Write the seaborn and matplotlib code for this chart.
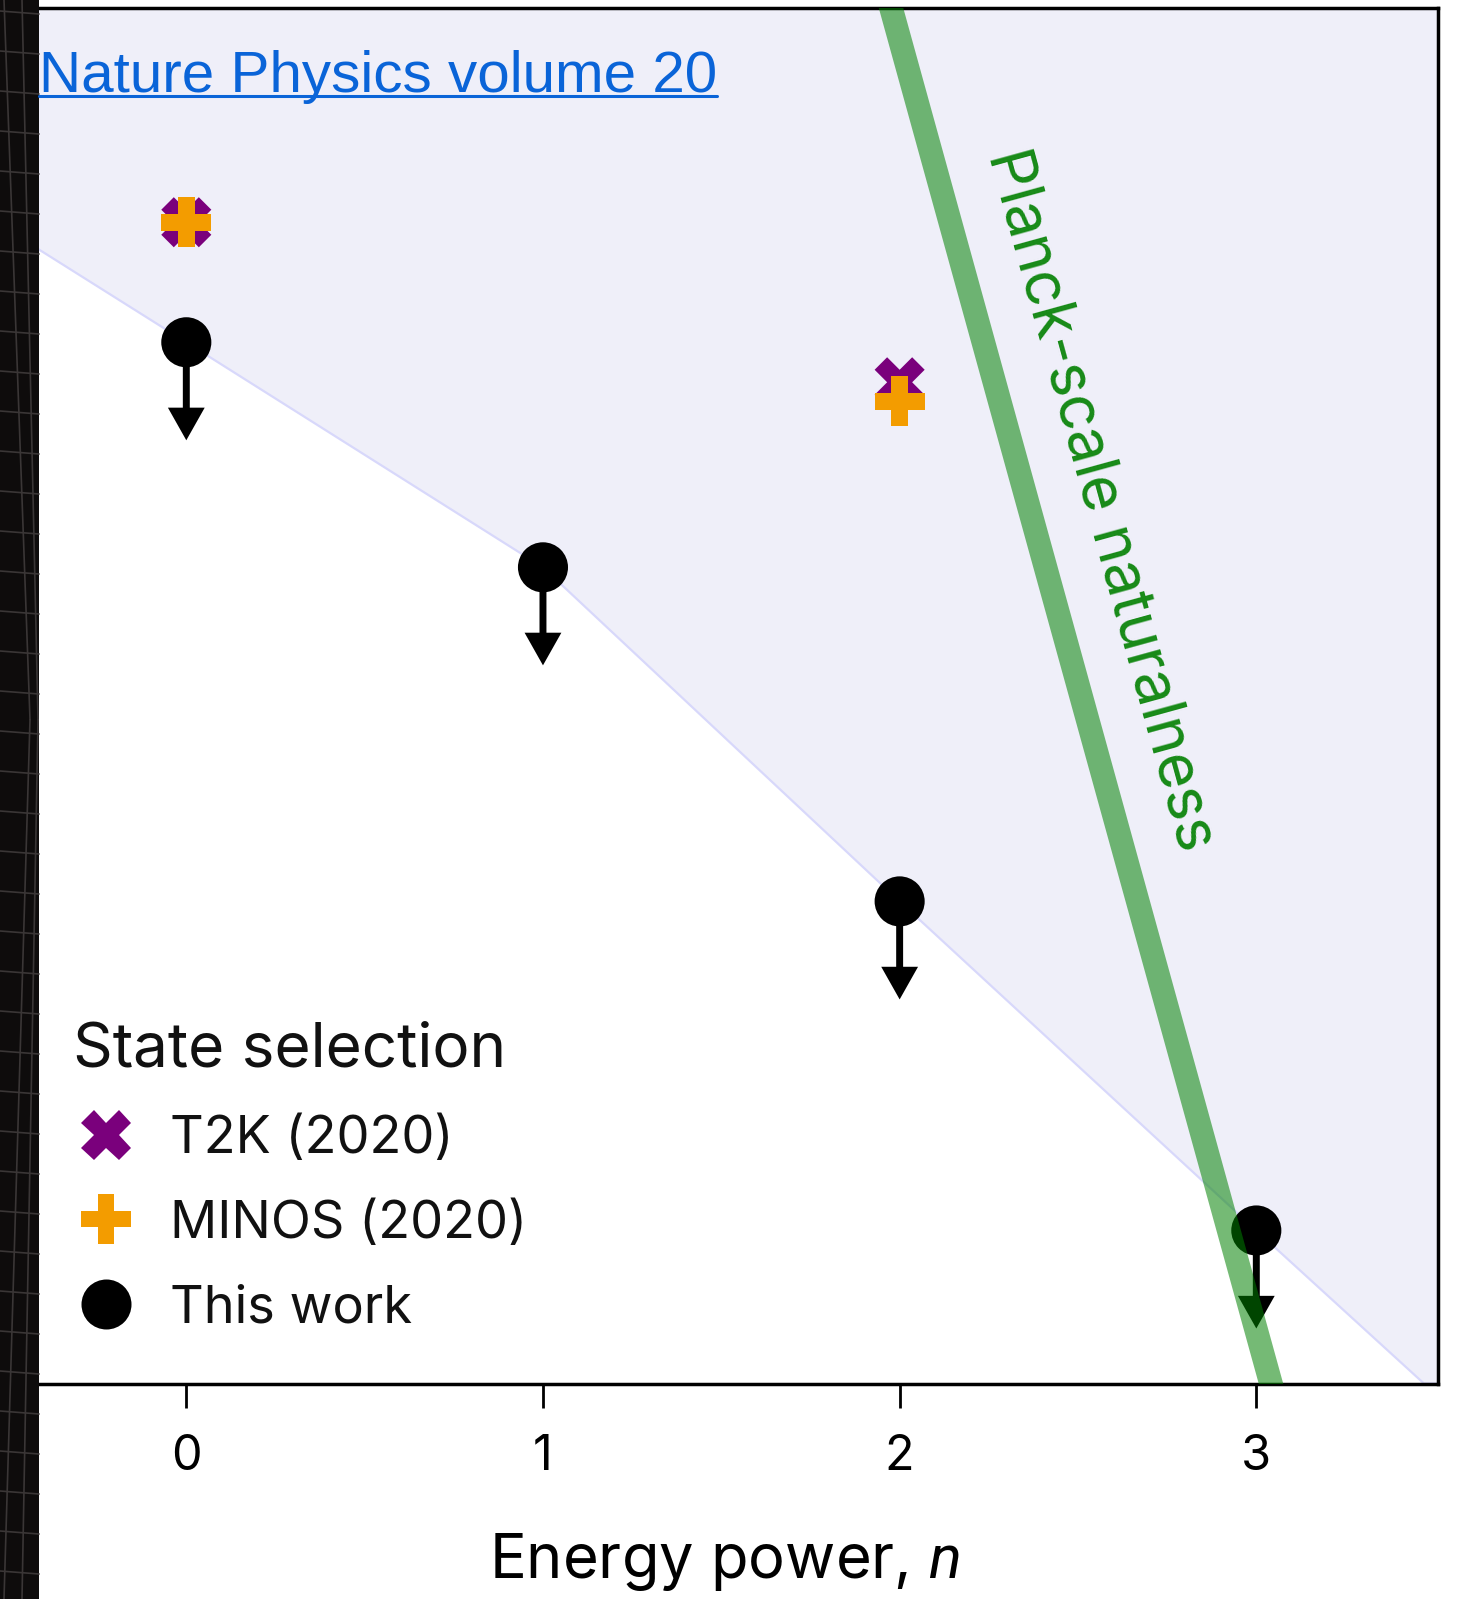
import numpy as np
import pandas as pd
import matplotlib
matplotlib.use("Agg")
import matplotlib.pyplot as plt
from matplotlib.lines import Line2D
from matplotlib.patches import Rectangle
import seaborn as sns

# ---- data -------------------------------------------------------------
# Upper limits on the coefficient (arbitrary log units) vs energy power n
n_this = [0, 1, 2, 3]
y_this = [10.41, 8.16, 4.82, 1.53]
n_t2k = [0, 2]
y_t2k = [11.61, 10.01]
n_minos = [0, 2]
y_minos = [11.61, 9.82]

# Edge of the excluded (shaded) region
excl_n = [-0.45, 0, 1, 2, 3, 3.47, 3.6]
excl_y = [11.42, 10.41, 8.16, 4.82, 1.53, 0.0, 0.0]

# Planck-scale naturalness line
planck_n = [1.976, 3.041]
planck_y = [13.75, 0.0]

arrow_len = 0.98
x_ticks = [0, 1, 2, 3]
x_tick_labels = ["0", "1", "2", "3"]
labels = ["T2K (2020)", "MINOS (2020)", "This work"]

# ---- style ------------------------------------------------------------
sns.set_theme(style="ticks")
plt.rcParams["font.family"] = ["Inter", "DejaVu Sans"]
plt.rcParams["mathtext.fontset"] = "custom"
plt.rcParams["mathtext.it"] = "Roboto:italic"
plt.rcParams["mathtext.rm"] = "Inter"

W, H, DPI = 1461, 1599, 100
fig = plt.figure(figsize=(W / DPI, H / DPI), dpi=DPI)
fig.patch.set_facecolor("white")

ax_l, ax_r, ax_t, ax_b = 39, 1437.5, 8.2, 1383.5
ax = fig.add_axes([ax_l / W, 1 - ax_b / H, (ax_r - ax_l) / W, (ax_b - ax_t) / H])
ax.set_facecolor("white")
ax.set_xlim(-0.413, 3.508)
ax.set_ylim(0, 13.75)

# dark strip on the left edge
fig.patches.append(Rectangle((0, 0), ax_l / W, 1, transform=fig.transFigure,
                             facecolor="#0e0c0c", edgecolor="none", zorder=0))
for k in range(0, 40):
    yy = 1 - (k * 40 + 14) / H
    fig.add_artist(Line2D([0, ax_l / W], [yy + 3 / H, yy], transform=fig.transFigure,
                          color="#3a3636", lw=1.2, zorder=1))
for x0, x1 in [(4, 30), (22, 38)]:
    fig.add_artist(Line2D([x0 / W, x1 / W], [1, 0.55], transform=fig.transFigure,
                          color="#3a3636", lw=1.2, zorder=1))
    fig.add_artist(Line2D([x1 / W, x0 / W], [0.55, 0], transform=fig.transFigure,
                          color="#3a3636", lw=1.2, zorder=1))

# excluded region
ax.fill_between(excl_n, excl_y, 14.5, color="#efeff9", lw=0, zorder=0)
ax.plot(excl_n, excl_y, color="#d8d8fb", lw=1.6, zorder=1)

# data points
palette = {"T2K (2020)": "#7a007c", "MINOS (2020)": "#f39c00", "This work": "#000000"}
markers = {"T2K (2020)": "X", "MINOS (2020)": "P", "This work": "o"}
df = pd.DataFrame({
    "n": n_t2k + n_minos + n_this,
    "y": y_t2k + y_minos + y_this,
    "source": [labels[0]] * len(n_t2k) + [labels[1]] * len(n_minos) + [labels[2]] * len(n_this),
})
sns.scatterplot(data=df, x="n", y="y", hue="source", style="source", palette=palette,
                markers=markers, s=1300, linewidth=0, legend=False, ax=ax, zorder=3)

# upper-limit arrows
for n, y in zip(n_this, y_this):
    ax.annotate("", xy=(n, y - arrow_len), xytext=(n, y),
                arrowprops=dict(arrowstyle="simple,head_length=0.94,head_width=1.06,tail_width=0.2",
                                mutation_scale=25, color="black", lw=0, shrinkA=0, shrinkB=0),
                zorder=3)

# Planck-scale line and label
ax.plot(planck_n, planck_y, color="#008000", alpha=0.54, lw=17,
        solid_capstyle="projecting", zorder=4)
ax.text(2.563, 8.835, "Planck-scale naturalness", rotation=-74.6, rotation_mode="anchor",
        ha="center", va="center", color="#178a17", fontsize=44, zorder=5)

# axes styling
for side in ["top", "bottom", "right"]:
    ax.spines[side].set_visible(True)
    ax.spines[side].set_color("black")
    ax.spines[side].set_linewidth(2.5)
ax.spines["left"].set_visible(False)
ax.set_xticks(x_ticks)
ax.set_xticklabels(x_tick_labels)
ax.set_yticks([])
ax.set_ylabel("")
ax.tick_params(axis="x", length=17, width=2, pad=19.5, labelsize=35, colors="black")
ax.set_xlabel("Energy power, $\\mathit{n}$", fontsize=44.2, color="black")
ax.xaxis.set_label_coords(0.4905, -0.1414)
ax.xaxis.label.set_verticalalignment("baseline")

# legend
handles = [
    Line2D([], [], ls="none", marker=markers[l], color=palette[l], markersize=36,
           markeredgewidth=0) for l in labels
]
leg = ax.legend(handles, labels, title="State selection", loc="lower left",
                bbox_to_anchor=(0.0246, 0.0365), frameon=False, fontsize=37.7,
                title_fontsize=44.7, handlelength=1.26, handletextpad=0.59,
                labelspacing=0.68, borderpad=0, borderaxespad=0, alignment="left")
for t in leg.get_texts():
    t.set_color("#111111")
leg.get_title().set_color("#111111")

# journal link text with underline
link = ax.text(0.0, (ax_b - 92) / (ax_b - ax_t), "Nature Physics volume 20",
               transform=ax.transAxes, ha="left", va="baseline", color="#0a64d8",
               fontsize=42, family=["Liberation Sans", "DejaVu Sans"], zorder=6)
fig.canvas.draw()
bb = link.get_window_extent()
uy = (H - 96) / H
fig.add_artist(Line2D([bb.x0 / W, bb.x1 / W], [uy, uy], transform=fig.transFigure,
                      color="#0a64d8", lw=2.2, zorder=6))

fig.savefig("out.png", dpi=DPI, facecolor="white")
